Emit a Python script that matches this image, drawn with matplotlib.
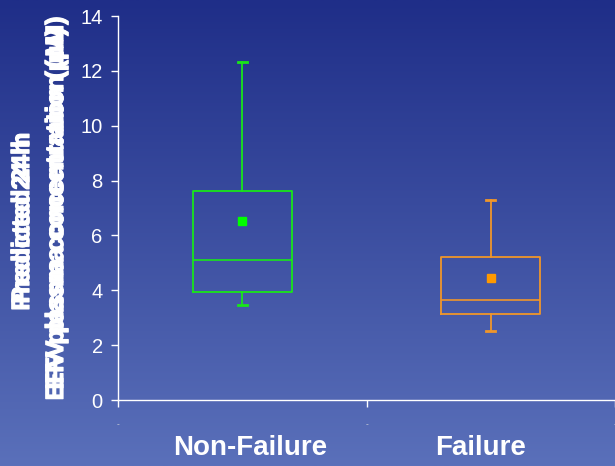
import numpy as np
import matplotlib
matplotlib.use("Agg")
import matplotlib.pyplot as plt
import matplotlib.patheffects as pe
from matplotlib.colors import LinearSegmentedColormap

plt.rcParams['font.family'] = ['Liberation Sans', 'DejaVu Sans']

categories = ["Non-Failure", "Failure"]
whisker_low = [3.45, 2.5]
q1 = [3.95, 3.12]
median = [5.12, 3.65]
q3 = [7.62, 5.21]
whisker_high = [12.32, 7.29]
means = [6.53, 4.45]
colors = ["#19e619", "#f0962a"]
mean_colors = ["#00ff00", "#ff9900"]
yticks = [0, 2, 4, 6, 8, 10, 12, 14]

fig = plt.figure(figsize=(6.15, 4.66), dpi=100)

# gradient background
bg = fig.add_axes([0, 0, 1, 1], zorder=-10)
grad = np.linspace(0, 1, 256).reshape(-1, 1)
cmap = LinearSegmentedColormap.from_list("bg", ["#1f2e88", "#5a70ba"])
bg.imshow(grad, aspect="auto", cmap=cmap, extent=[0, 1, 0, 1], origin="upper")
bg.axis("off")

ax = fig.add_axes([118/615, 66/466, 1 - 118/615, (400-16)/466])
ax.set_facecolor("none")

positions = [1, 2]
for i in range(len(categories)):
    stats = [dict(med=median[i], q1=q1[i], q3=q3[i], whislo=whisker_low[i],
                  whishi=whisker_high[i], mean=means[i], fliers=[], label=categories[i])]
    c = colors[i]
    ax.bxp(stats, positions=[positions[i]], widths=0.4, capwidths=0.036,
           showmeans=True, showfliers=False, patch_artist=False,
           boxprops=dict(color=c, linewidth=1.3),
           whiskerprops=dict(color=c, linewidth=1.3),
           capprops=dict(color=c, linewidth=2.0),
           medianprops=dict(color=c, linewidth=1.2),
           meanprops=dict(marker="s", markerfacecolor=mean_colors[i],
                          markeredgecolor=mean_colors[i], markersize=6))

ax.set_xlim(0.5, 2.5)
ax.set_ylim(0, 14)
ax.set_yticks(yticks)
ax.set_yticklabels([str(v) for v in yticks], color="white", fontsize=14.5)
ax.set_xticks([0.5, 1.5, 2.5])
ax.set_xticklabels(["-", "-", "-"], color="#dddddd", fontsize=6)
ax.tick_params(axis="y", colors="white", length=5, width=1, labelcolor="white", pad=6)
ax.tick_params(axis="x", colors="white", length=5, width=1, labelcolor="#dddddd", pad=10)
for s in ["top", "right"]:
    ax.spines[s].set_visible(False)
for s in ["left", "bottom"]:
    ax.spines[s].set_color("white")
    ax.spines[s].set_linewidth(1)

for i, cat in enumerate(categories):
    ax.text(positions[i] + (0.03 if i == 0 else -0.04), -0.125, cat, transform=ax.get_xaxis_transform(),
            ha="center", va="center", fontsize=20, fontweight="bold", color="white")

# overlapping y-axis labels
heavy = [pe.withStroke(linewidth=0.9, foreground="white")]
for yy in (218, 225):
    fig.text(22/615, 1 - yy/466, "Predicted 24 h", rotation=90, ha="center", va="center",
             fontsize=18, fontweight="bold", color="white", path_effects=heavy)
for yy in (203, 214):
    fig.text(56/615, 1 - yy/466, "EFV plasma concentration (µM)", rotation=90, ha="center", va="center",
             fontsize=18, fontweight="bold", color="white", path_effects=heavy)

fig.savefig("out.png", dpi=100)
